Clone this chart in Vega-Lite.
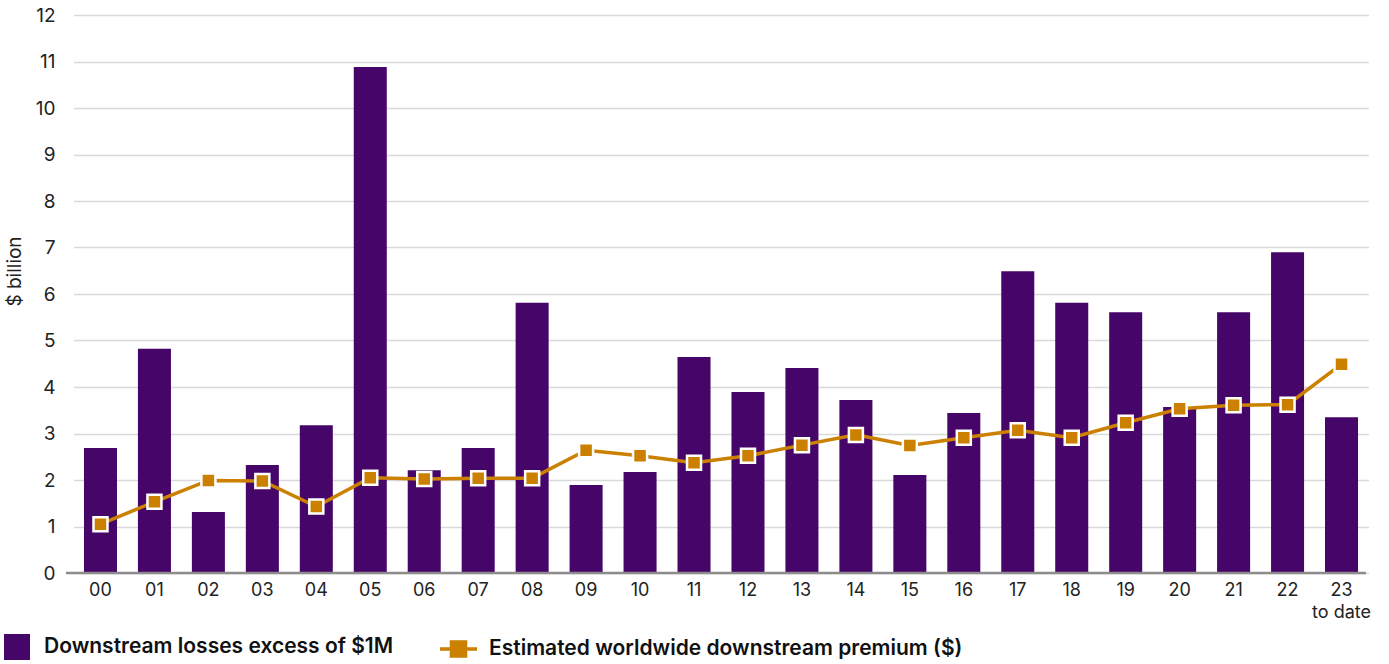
{
  "$schema": "https://vega.github.io/schema/vega-lite/v6.json",
  "width": 1300,
  "height": 558,
  "autosize": "none",
  "padding": {"left": 66, "top": 15, "right": 23, "bottom": 91},
  "background": "white",
  "config": {"view": {"stroke": null}, "font": "Inter"},
  "data": {"values": [
    {"year": "00", "loss": 2.69, "premium": 1.05},
    {"year": "01", "loss": 4.82, "premium": 1.53},
    {"year": "02", "loss": 1.31, "premium": 1.99},
    {"year": "03", "loss": 2.32, "premium": 1.98},
    {"year": "04", "loss": 3.18, "premium": 1.43},
    {"year": "05", "loss": 10.88, "premium": 2.05},
    {"year": "06", "loss": 2.21, "premium": 2.02},
    {"year": "07", "loss": 2.69, "premium": 2.04},
    {"year": "08", "loss": 5.81, "premium": 2.04},
    {"year": "09", "loss": 1.89, "premium": 2.64},
    {"year": "10", "loss": 2.17, "premium": 2.52},
    {"year": "11", "loss": 4.645, "premium": 2.37},
    {"year": "12", "loss": 3.89, "premium": 2.52},
    {"year": "13", "loss": 4.41, "premium": 2.75},
    {"year": "14", "loss": 3.72, "premium": 2.97},
    {"year": "15", "loss": 2.11, "premium": 2.74},
    {"year": "16", "loss": 3.44, "premium": 2.91},
    {"year": "17", "loss": 6.49, "premium": 3.07},
    {"year": "18", "loss": 5.81, "premium": 2.91},
    {"year": "19", "loss": 5.61, "premium": 3.23},
    {"year": "20", "loss": 3.57, "premium": 3.53},
    {"year": "21", "loss": 5.61, "premium": 3.61},
    {"year": "22", "loss": 6.90, "premium": 3.62},
    {"year": "23", "loss": 3.35, "premium": 4.49, "note": "to date"}
  ]},
  "layer": [
    {
      "mark": {"type": "bar"},
      "encoding": {
        "x": {"field": "year", "type": "ordinal", "sort": null,
          "scale": {"range": [7.5, 1302.5], "paddingInner": 0.388, "paddingOuter": 0.194},
          "axis": {"title": null, "domain": false, "ticks": false, "grid": false, "labelAngle": 0,
            "labelFontSize": 18, "labelColor": "#222222", "labelPadding": 8, "labelBaseline": "top"}},
        "y": {"field": "loss", "type": "quantitative",
          "scale": {"domain": [0, 12]},
          "axis": {"title": "$ billion", "values": [0,1,2,3,4,5,6,7,8,9,10,11,12],
            "grid": true, "gridColor": "#d9d9d9", "gridWidth": 1.5, "domain": false, "ticks": false,
            "labelFontSize": 19, "labelColor": "#222222", "labelPadding": 11,
            "titleFontSize": 19, "titleFontWeight": "normal", "titleColor": "#222222",
            "titleAngle": -90, "titleX": -52, "titleY": 256, "titleAlign": "center", "titleBaseline": "middle"}},
        "fill": {"datum": "Downstream losses excess of $1M",
          "scale": {"range": ["#450569"]},
          "legend": {"orient": "none", "legendX": -62, "legendY": 619, "title": null,
            "symbolType": "square", "symbolSize": 676, "symbolStrokeWidth": 0,
            "labelFontSize": 21, "labelFontWeight": 600, "labelColor": "#111111", "labelLimit": 800,
            "labelOffset": 14, "padding": 0}}
      }
    },
    {
      "data": {"values": [{}]},
      "mark": {"type": "rule", "color": "#8c8c8c", "strokeWidth": 2.5},
      "encoding": {"y": {"datum": 0, "type": "quantitative"}}
    },
    {
      "transform": [{"filter": "datum.note != null"}],
      "mark": {"type": "text", "fontSize": 18, "color": "#222222", "baseline": "top", "align": "center", "dy": 31},
      "encoding": {
        "x": {"field": "year", "type": "ordinal", "sort": null},
        "y": {"datum": 0, "type": "quantitative"},
        "text": {"field": "note"}
      }
    },
    {
      "mark": {"type": "line", "strokeWidth": 3.5},
      "encoding": {
        "x": {"field": "year", "type": "ordinal", "sort": null},
        "y": {"field": "premium", "type": "quantitative"},
        "stroke": {"datum": "Estimated worldwide downstream premium ($)",
          "scale": {"range": ["#CC8000"]},
          "legend": {"orient": "none", "legendX": 372, "legendY": 613.5, "title": null,
            "symbolType": "M-1,0H1M-0.38,-0.38H0.38V0.38H-0.38Z", "symbolSize": 1369,
            "symbolStrokeWidth": 3.5, "symbolFillColor": "#CC8000",
            "labelFontSize": 21, "labelFontWeight": 600, "labelColor": "#111111", "labelLimit": 800,
            "labelOffset": 10, "padding": 0,
            "encode": {"symbols": {"update": {"fill": {"value": "#CC8000"}, "stroke": {"value": "#CC8000"}}}}}}
      }
    },
    {
      "mark": {"type": "point", "shape": "square", "filled": true, "fill": "#CC8000", "stroke": "white",
        "strokeWidth": 2.5, "size": 196, "opacity": 1},
      "encoding": {
        "x": {"field": "year", "type": "ordinal", "sort": null},
        "y": {"field": "premium", "type": "quantitative"}
      }
    }
  ]
}
